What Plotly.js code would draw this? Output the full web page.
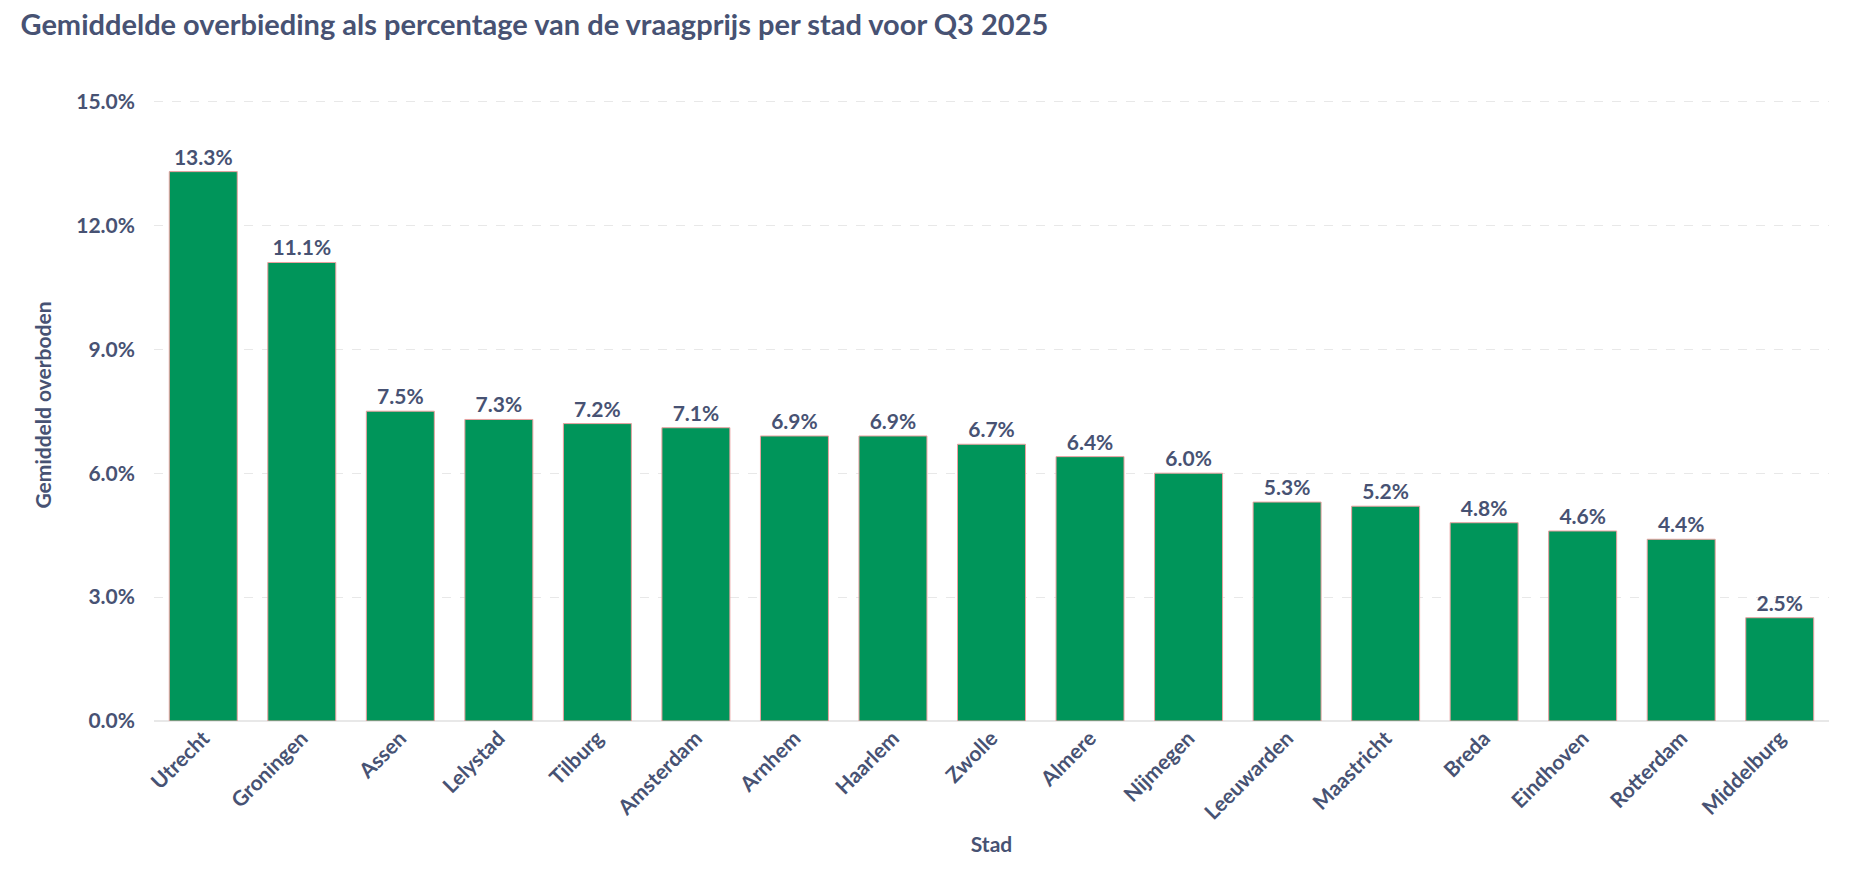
<!DOCTYPE html>
<html>
<head>
<meta charset="utf-8">
<script src="https://cdn.plot.ly/plotly-3.0.1.min.js"></script>
<style>
  html, body { margin: 0; padding: 0; background: #fff; }
  #chart { width: 1864px; height: 882px; }
</style>
</head>
<body>
<div id="chart"></div>
<script>
var steden = ['Utrecht', 'Groningen', 'Assen', 'Lelystad', 'Tilburg', 'Amsterdam', 'Arnhem',
    'Haarlem', 'Zwolle', 'Almere', 'Nijmegen', 'Leeuwarden', 'Maastricht', 'Breda',
    'Eindhoven', 'Rotterdam', 'Middelburg'];
var overbieding = [0.133, 0.111, 0.075, 0.073, 0.072, 0.071, 0.069, 0.069, 0.067, 0.064,
    0.060, 0.053, 0.052, 0.048, 0.046, 0.044, 0.025];
var yTicks = [0, 0.03, 0.06, 0.09, 0.12, 0.15];

var textColor = '#475273';
var green = '#00955a';

var data = [{
    x: steden,
    y: overbieding,
    type: 'bar',
    marker: {
        color: green,
        line: {color: 'rgb(235,160,160)', width: 1}
    },
    text: overbieding.map(function(v) { return (v * 100).toFixed(1) + '%'; }),
    textposition: 'outside',
    textfont: {size: 21, color: textColor, family: 'Lato', weight: 'bold'},
    cliponaxis: false,
    hoverinfo: 'none',
    showlegend: false
}];

var layout = {
    width: 1864,
    height: 882,
    margin: {t: 89, b: 161, l: 154, r: 35},
    paper_bgcolor: '#fff',
    plot_bgcolor: '#fff',
    font: {family: 'Lato', color: textColor, size: 21, weight: 'bold'},
    title: {
        text: 'Gemiddelde overbieding als percentage van de vraagprijs per stad voor Q3 2025',
        x: 0.011, xanchor: 'left',
        y: 0.983, yanchor: 'top',
        font: {size: 29, color: textColor, family: 'Lato', weight: 'bold'}
    },
    bargap: 0.31,
    xaxis: {
        tickangle: -45,
        showgrid: false,
        showline: false,
        ticks: '',
        tickfont: {size: 21, color: textColor, weight: 'bold'},
        title: {text: 'Stad', standoff: 14, font: {size: 21, color: textColor, weight: 'bold'}}
    },
    yaxis: {
        range: [0, 0.153],
        tickvals: yTicks,
        tickformat: '.1%',
        showgrid: true,
        gridcolor: '#e8e8e8',
        griddash: 'dash',
        gridwidth: 1,
        zeroline: true,
        zerolinecolor: '#e8e8e8',
        zerolinewidth: 2,
        ticks: '',
        ticklabelstandoff: 18,
        tickfont: {size: 21, color: textColor, weight: 'bold'},
        title: {text: 'Gemiddeld overboden', standoff: 18, font: {size: 21, color: textColor, weight: 'bold'}}
    }
};

Plotly.newPlot('chart', data, layout, {displayModeBar: false, staticPlot: true});
</script>
</body>
</html>
